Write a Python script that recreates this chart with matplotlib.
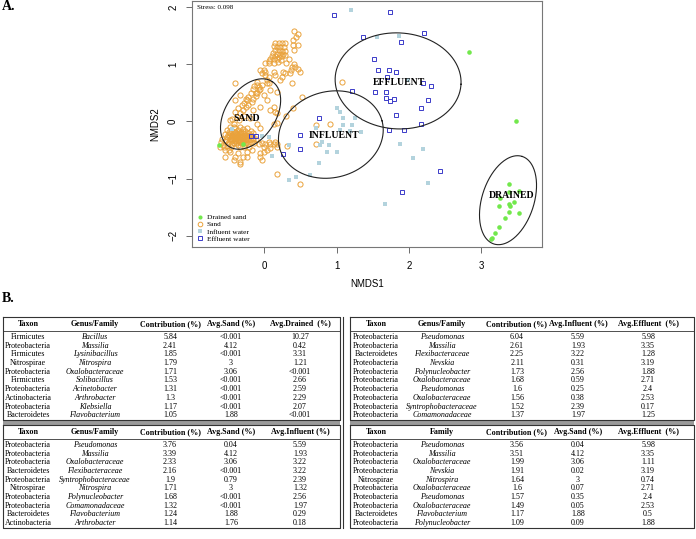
import numpy as np
import matplotlib.pyplot as plt

# ---- NMDS scores ----
sand_pts = [
    # upper arm
    (0.41, 1.58), (0.46, 1.53), (0.44, 1.48), (0.40, 1.43), (0.46, 1.34), (0.39, 1.34), (0.41, 1.26),
    (0.15, 1.38), (0.20, 1.37), (0.24, 1.38), (0.29, 1.37), (0.13, 1.32), (0.18, 1.31), (0.22, 1.31),
    (0.27, 1.30), (0.15, 1.26), (0.20, 1.25), (0.24, 1.24), (0.29, 1.24), (0.12, 1.20), (0.17, 1.19),
    (0.21, 1.19), (0.26, 1.19), (0.11, 1.15), (0.15, 1.15), (0.20, 1.13), (0.24, 1.15), (0.29, 1.16),
    (0.08, 1.09), (0.13, 1.09), (0.18, 1.09), (0.23, 1.08), (0.06, 1.03), (0.13, 1.03), (0.01, 1.02),
    (0.07, 1.06), (0.19, 1.04), (0.30, 1.02), (0.41, 1.00), (0.38, 0.96), (0.43, 0.96), (0.46, 0.92),
    (0.37, 0.90), (0.49, 0.87), (-0.06, 0.90), (-0.01, 0.90), (-0.03, 0.85), (0.13, 0.87), (0.26, 0.87),
    (0.29, 0.85), (0.36, 0.85), (0.15, 0.81), (0.24, 0.78), (0.01, 0.81), (0.06, 0.77), (0.21, 0.72),
    (0.38, 0.68), (0.04, 0.67), (0.07, 0.67), (-0.08, 0.61), (-0.03, 0.64), (-0.41, 0.67), (-0.07, 0.55),
    (-0.10, 0.49), (0.18, 0.52), (-0.12, 0.44), (-0.15, 0.40), (0.52, 0.43), (0.34, 1.09),
    # band inside the SAND ellipse
    (-0.10, 0.64), (-0.06, 0.56), (-0.12, 0.49), (-0.01, 0.46), (-0.24, 0.37), (-0.26, 0.40),
    (-0.22, 0.43), (-0.17, 0.34), (-0.31, 0.29), (-0.36, 0.23), (-0.26, 0.26), (-0.40, 0.17),
    (-0.33, 0.14), (-0.15, 0.20), (-0.06, 0.26), (0.04, 0.37), (0.08, 0.55), (0.13, 0.26),
    (0.18, 0.14), (-0.47, 0.02), (-0.06, -0.12), (-0.10, -0.04), (-0.42, -0.09), (-0.40, 0.37),
    (-0.33, 0.46), (-0.10, 0.69), (0.04, 0.72), (0.01, 0.87), (-0.28, 0.33), (-0.30, 0.20),
    (-0.38, 0.08), (-0.44, 0.05), (-0.35, 0.02), (-0.28, 0.10), (-0.20, 0.06), (-0.22, 0.28),
    (-0.19, 0.50), (-0.16, 0.57), (-0.14, 0.62),
    # dense core
    (-0.58, -0.30), (-0.55, -0.22), (-0.55, -0.35), (-0.52, -0.28), (-0.52, -0.15), (-0.50, -0.38),
    (-0.50, -0.24), (-0.48, -0.31), (-0.48, -0.10), (-0.47, -0.20), (-0.46, -0.35), (-0.45, -0.27),
    (-0.45, -0.16), (-0.44, -0.40), (-0.43, -0.30), (-0.43, -0.22), (-0.42, -0.05), (-0.41, -0.34),
    (-0.41, -0.25), (-0.40, -0.18), (-0.40, -0.12), (-0.39, -0.38), (-0.39, -0.29), (-0.38, -0.22),
    (-0.37, -0.33), (-0.37, -0.26), (-0.36, -0.15), (-0.36, -0.41), (-0.35, -0.30), (-0.35, -0.20),
    (-0.34, -0.36), (-0.34, -0.24), (-0.33, -0.09), (-0.33, -0.28), (-0.32, -0.32), (-0.32, -0.18),
    (-0.31, -0.38), (-0.31, -0.25), (-0.30, -0.13), (-0.30, -0.30), (-0.29, -0.21), (-0.29, -0.35),
    (-0.28, -0.27), (-0.27, -0.40), (-0.27, -0.17), (-0.26, -0.31), (-0.26, -0.23), (-0.25, -0.36),
    (-0.24, -0.28), (-0.24, -0.12), (-0.23, -0.33), (-0.22, -0.20), (-0.22, -0.40), (-0.21, -0.26),
    (-0.20, -0.31), (-0.19, -0.16), (-0.18, -0.36), (-0.18, -0.24), (-0.16, -0.29), (-0.15, -0.20),
    (-0.53, -0.33), (-0.49, -0.19), (-0.46, -0.29), (-0.44, -0.24), (-0.42, -0.37), (-0.40, -0.31),
    (-0.38, -0.27), (-0.36, -0.23), (-0.35, -0.34), (-0.33, -0.21), (-0.31, -0.29), (-0.28, -0.33),
    (-0.27, -0.24), (-0.25, -0.30), (-0.23, -0.26), (-0.41, -0.21), (-0.44, -0.33), (-0.38, -0.35),
    (-0.30, -0.37), (-0.47, -0.26), (-0.57, -0.41), (-0.60, -0.36), (-0.56, -0.45), (-0.51, -0.43),
    (-0.46, -0.45), (-0.33, -0.44), (-0.28, -0.45), (-0.21, -0.44), (-0.14, -0.38), (-0.12, -0.30),
    # scattered
    (0.08, 0.20), (0.13, -0.04), (-0.15, -0.33), (-0.08, -0.39), (-0.01, -0.45), (0.06, -0.36),
    (0.13, -0.39), (0.04, -0.50), (-0.17, -0.50), (-0.24, -0.53), (-0.06, -0.56), (-0.36, -0.56),
    (-0.29, -0.62), (-0.40, -0.62), (-0.03, -0.68), (-0.33, -0.71), (-0.54, -0.50), (-0.47, -0.53),
    (-0.61, -0.45), (0.18, -0.39), (0.18, -0.92), (0.50, -1.10), (0.31, -0.43), (0.30, 0.09),
    (0.40, 0.23), (-0.03, -0.38), (0.08, -0.39), (0.18, -0.45), (-0.24, -0.62), (-0.33, -0.74),
    (-0.42, -0.68), (-0.54, -0.62), (-0.49, -0.50), (0.91, -0.04), (0.71, -0.06), (0.72, -0.40),
    (1.08, 0.69), (0.15, 0.17), (0.17, -0.02), (0.15, -0.36), (0.08, -0.47), (0.01, -0.39),
    (-0.01, -0.53), (-0.06, -0.62),
]

influent_pts = [
    (1.20, 1.95), (1.56, 1.48), (1.86, 1.50), (1.99, 0.72), (1.01, 0.23), (1.05, 0.17), (1.09, 0.06),
    (1.25, 0.06), (1.09, -0.06), (1.21, -0.06), (1.05, -0.15), (1.18, -0.17), (1.34, -0.19),
    (1.87, -0.39), (2.19, -0.49), (2.05, -0.64), (1.01, -0.54), (2.26, -1.08), (1.67, -1.44),
    (0.71, -0.12), (0.80, -0.36), (0.89, -0.42), (0.77, -0.42), (0.86, -0.53), (0.75, -0.73),
    (0.63, -0.93), (0.44, -0.98), (0.34, -1.02), (0.11, -0.60), (0.34, -0.42), (0.06, -0.27),
    (-0.45, -0.14), (-0.03, -0.25),
]

effluent_pts = [
    (0.96, 1.87), (1.74, 1.92), (1.36, 1.48), (2.21, 1.55), (1.89, 1.40), (1.52, 1.10), (1.57, 0.90),
    (1.72, 0.90), (1.82, 0.87), (1.69, 0.78), (2.20, 0.68), (2.31, 0.62), (1.21, 0.54), (1.53, 0.51),
    (1.68, 0.51), (1.68, 0.41), (1.74, 0.36), (1.80, 0.39), (2.27, 0.37), (2.16, 0.23), (1.82, 0.11),
    (2.16, -0.05), (1.72, -0.15), (1.93, -0.15), (2.43, -0.87), (1.91, -1.23), (0.76, 0.06),
    (0.50, -0.24), (0.50, -0.49), (0.26, -0.57), (-0.18, -0.25), (-0.11, -0.26),
]

drained_pts = [
    (2.83, 1.22), (3.48, 0.00), (3.39, -1.09), (3.38, -1.23), (3.52, -1.22), (3.26, -1.35),
    (3.45, -1.42), (3.39, -1.45), (3.40, -1.48), (3.25, -1.49), (3.52, -1.60), (3.38, -1.58),
    (3.33, -1.70), (3.25, -1.85), (3.19, -1.96), (3.15, -2.04), (3.14, -2.06), (-0.62, -0.42),
    (-0.29, -0.40),
]

# group ellipses: label, centre (NMDS1, NMDS2), semi-axes (px), angle (deg)
groups = ["SAND", "INFLUENT", "EFFLUENT", "DRAINED"]
centres = [(-0.19, 0.13), (0.92, -0.23), (1.85, 0.71), (3.37, -1.38)]
label_pos = [(-0.24, 0.06), (0.96, -0.25), (1.86, 0.68), (3.42, -1.30)]
ell_axes = [(39, 25, 56), (53, 43, 15), (63, 48, -3), (46, 26, 72)]

# ---- SIMPER tables ----
t1_head = ["Taxon", "Genus/Family", "Contribution (%)", "Avg.Sand (%)", "Avg.Drained  (%)"]
t1_taxon = ["Firmicutes", "Proteobacteria", "Firmicutes", "Nitrospirae", "Proteobacteria",
            "Firmicutes", "Proteobacteria", "Actinobacteria", "Proteobacteria", "Bacteroidetes"]
t1_genus = ["Bacillus", "Massilia", "Lysinibacillus", "Nitrospira", "Oxalobacteraceae",
            "Solibacillus", "Acinetobacter", "Arthrobacter", "Klebsiella", "Flavobacterium"]
t1_contrib = ["5.84", "2.41", "1.85", "1.79", "1.71", "1.53", "1.31", "1.3", "1.17", "1.05"]
t1_a = ["<0.001", "4.12", "<0.001", "3", "3.06", "<0.001", "<0.001", "<0.001", "<0.001", "1.88"]
t1_b = ["10.27", "0.42", "3.31", "1.21", "<0.001", "2.66", "2.59", "2.29", "2.07", "<0.001"]

t2_head = ["Taxon", "Genus/Family", "Contribution (%)", "Avg.Influent (%)", "Avg.Effluent  (%)"]
t2_taxon = ["Proteobacteria", "Proteobacteria", "Bacteroidetes", "Proteobacteria", "Proteobacteria",
            "Proteobacteria", "Proteobacteria", "Proteobacteria", "Proteobacteria", "Proteobacteria"]
t2_genus = ["Pseudomonas", "Massilia", "Flexibacteraceae", "Nevskia", "Polynucleobacter",
            "Oxalobacteraceae", "Pseudomonas", "Oxalobacteraceae", "Syntrophobacteraceae", "Comamonadaceae"]
t2_contrib = ["6.04", "2.61", "2.25", "2.11", "1.73", "1.68", "1.6", "1.56", "1.52", "1.37"]
t2_a = ["5.59", "1.93", "3.22", "0.31", "2.56", "0.59", "0.25", "0.38", "2.39", "1.97"]
t2_b = ["5.98", "3.35", "1.28", "3.19", "1.88", "2.71", "2.4", "2.53", "0.17", "1.25"]

t3_head = ["Taxon", "Genus/Family", "Contribution (%)", "Avg.Sand (%)", "Avg.Influent (%)"]
t3_taxon = ["Proteobacteria", "Proteobacteria", "Proteobacteria", "Bacteroidetes", "Proteobacteria",
            "Nitrospirae", "Proteobacteria", "Proteobacteria", "Bacteroidetes", "Actinobacteria"]
t3_genus = ["Pseudomonas", "Massilia", "Oxalobacteraceae", "Flexibacteraceae", "Syntrophobacteraceae",
            "Nitrospira", "Polynucleobacter", "Comamonadaceae", "Flavobacterium", "Arthrobacter"]
t3_contrib = ["3.76", "3.39", "2.33", "2.16", "1.9", "1.71", "1.68", "1.32", "1.24", "1.14"]
t3_a = ["0.04", "4.12", "3.06", "<0.001", "0.79", "3", "<0.001", "<0.001", "1.88", "1.76"]
t3_b = ["5.59", "1.93", "3.22", "3.22", "2.39", "1.32", "2.56", "1.97", "0.29", "0.18"]

t4_head = ["Taxon", "Family", "Contribution (%)", "Avg.Sand (%)", "Avg.Effluent  (%)"]
t4_taxon = ["Proteobacteria", "Proteobacteria", "Proteobacteria", "Proteobacteria", "Nitrospirae",
            "Proteobacteria", "Proteobacteria", "Proteobacteria", "Bacteroidetes", "Proteobacteria"]
t4_genus = ["Pseudomonas", "Massilia", "Oxalobacteraceae", "Nevskia", "Nitrospira",
            "Oxalobacteraceae", "Pseudomonas", "Oxalobacteraceae", "Flavobacterium", "Polynucleobacter"]
t4_contrib = ["3.56", "3.51", "1.99", "1.91", "1.64", "1.6", "1.57", "1.49", "1.17", "1.09"]
t4_a = ["0.04", "4.12", "3.06", "0.02", "3", "0.07", "0.35", "0.05", "1.88", "0.09"]
t4_b = ["5.98", "3.35", "1.11", "3.19", "0.74", "2.71", "2.4", "2.53", "0.5", "1.88"]

SERIF = "Liberation Serif"
SANS = "Liberation Sans"

W, H = 696, 539
fig = plt.figure(figsize=(W / 100, H / 100), dpi=100)

# ---- panel A ----
ax = fig.add_axes([192 / W, 1 - 247 / H, 350 / W, 246 / H])
xlim = (-1.0, 3.84)
ylim = (-2.2, 2.11)
ax.set_xlim(*xlim)
ax.set_ylim(*ylim)

sand = np.array(sand_pts)
infl = np.array(influent_pts)
effl = np.array(effluent_pts)
drn = np.array(drained_pts)

sand_col = "#E9A23B"
infl_col = "#B3D3DD"
effl_col = "#3B3BC9"
drn_col = "#72E84C"

ax.plot(sand[:, 0], sand[:, 1], "o", ms=3.7, mfc="none", mec=sand_col, mew=0.7, label="Sand")
ax.plot(infl[:, 0], infl[:, 1], "s", ms=3.0, mfc=infl_col, mec=infl_col, mew=0, label="Influent water")
ax.plot(effl[:, 0], effl[:, 1], "s", ms=3.5, mfc="none", mec=effl_col, mew=0.7, label="Effluent water")
ax.plot(drn[:, 0], drn[:, 1], "o", ms=3.3, mfc=drn_col, mec=drn_col, mew=0, label="Drained sand")

# ellipses drawn in screen proportions
sx = 350 / (xlim[1] - xlim[0])
sy = 246 / (ylim[1] - ylim[0])
t = np.linspace(0, 2 * np.pi, 200)
for (cx, cy), (a, b, ang), name, (lx, ly) in zip(centres, ell_axes, groups, label_pos):
    th = np.deg2rad(ang)
    ex = cx + (a * np.cos(t) * np.cos(th) - b * np.sin(t) * np.sin(th)) / sx
    ey = cy + (a * np.cos(t) * np.sin(th) + b * np.sin(t) * np.cos(th)) / sy
    ax.plot(ex, ey, color="#222222", lw=0.8)
    ax.text(lx, ly, name, family=SERIF, fontweight="bold", fontsize=7,
            ha="center", va="center")

ax.text(0.015, 0.985, "Stress: 0.098", transform=ax.transAxes, family=SERIF,
        fontsize=5, ha="left", va="top")

ax.set_xticks([0, 1, 2, 3])
ax.set_yticks([-2, -1, 0, 1, 2])
ax.tick_params(direction="out", length=4, width=0.6, color="#555555", labelsize=7, pad=6)
for lab in ax.get_yticklabels():
    lab.set_rotation(90)
    lab.set_va("center")
for lab in ax.get_xticklabels() + ax.get_yticklabels():
    lab.set_family(SANS)
for sp in ax.spines.values():
    sp.set_color("#777777")
    sp.set_linewidth(0.8)
ax.set_xlabel("NMDS1", family=SANS, fontsize=7, labelpad=6)
ax.set_ylabel("NMDS2", family=SANS, fontsize=7, labelpad=6)

handles, labels = ax.get_legend_handles_labels()
order = [3, 0, 1, 2]
ax.legend([handles[i] for i in order], [labels[i] for i in order], loc="lower left",
          frameon=False, prop={"family": SERIF, "size": 5.3}, handlelength=0.8,
          handletextpad=0.5, labelspacing=0.15, borderaxespad=0.3, markerscale=0.9)

# ---- panel B: tables drawn in pixel space ----
tab = fig.add_axes([0, 0, 1, 1])
tab.set_xlim(0, W)
tab.set_ylim(H, 0)
tab.axis("off")

fig.text(2 / W, 1 - 7 / H, "A.", family=SERIF, fontweight="bold", fontsize=10, va="center")
fig.text(2 / W, 1 - 299 / H, "B.", family=SERIF, fontweight="bold", fontsize=10, va="center")

ROW = 8.7
FS = 5.8


def draw_table(x0, x1, y0, centers, head, cols):
    bottom = y0 + 20 + 9 * ROW + 5
    tab.plot([x0, x1, x1, x0, x0], [y0, y0, bottom, bottom, y0], color="#333333", lw=0.8)
    tab.plot([x0, x1], [y0 + 14, y0 + 14], color="#333333", lw=0.6)
    for cxp, h in zip(centers, head):
        tab.text(cxp, y0 + 7.5, h, family=SERIF, fontweight="bold", fontsize=FS,
                 ha="center", va="center")
    for j, col in enumerate(cols):
        for i, v in enumerate(col):
            tab.text(centers[j], y0 + 20 + i * ROW, v, family=SERIF, fontsize=FS,
                     style="italic" if j == 1 else "normal", ha="center", va="center")
    return bottom


left_c = [28, 95, 170, 231, 300]
right_c = [376, 442, 517, 578, 648]

b1 = draw_table(3, 340, 317, left_c, t1_head, [t1_taxon, t1_genus, t1_contrib, t1_a, t1_b])
draw_table(350, 694, 317, right_c, t2_head, [t2_taxon, t2_genus, t2_contrib, t2_a, t2_b])
y2 = b1 + 4.5
b2 = draw_table(3, 340, y2, left_c, t3_head, [t3_taxon, t3_genus, t3_contrib, t3_a, t3_b])
draw_table(350, 694, y2, right_c, t4_head, [t4_taxon, t4_genus, t4_contrib, t4_a, t4_b])

# grey separator bars and double vertical rule
for xa, xb in [(3, 340), (350, 694)]:
    tab.fill_between([xa, xb], b1, y2, color="#9a9a9a", lw=0)
tab.plot([343, 343], [317, b2], color="#333333", lw=0.8)

fig.savefig("out.png", dpi=100)
